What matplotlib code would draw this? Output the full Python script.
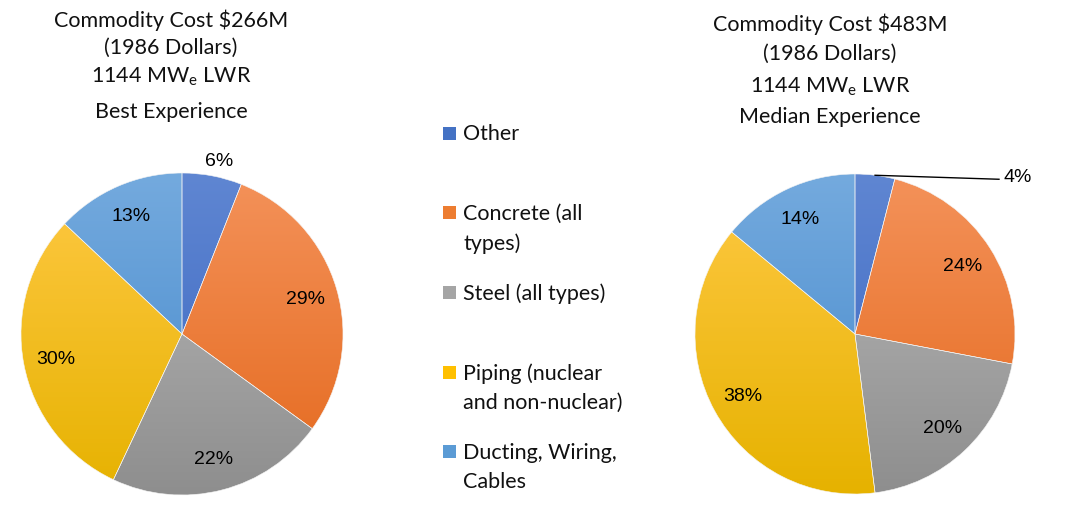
import numpy as np
import matplotlib
matplotlib.use("Agg")
import matplotlib.pyplot as plt
from matplotlib.colors import LinearSegmentedColormap
from matplotlib.patches import Rectangle

plt.rcParams['font.family'] = ['Lato', 'DejaVu Sans']
plt.rcParams['mathtext.fontset'] = 'custom'
plt.rcParams['mathtext.rm'] = 'Lato'

categories = ["Other", "Concrete (all\ntypes)", "Steel (all types)",
              "Piping (nuclear\nand non-nuclear)", "Ducting, Wiring,\nCables"]
best = [6, 29, 22, 30, 13]
median = [4, 24, 20, 38, 14]
titles_best = ["Commodity Cost $266M", "(1986 Dollars)", "1144 MW$_\\mathrm{e}$ LWR", "Best Experience"]
titles_median = ["Commodity Cost $483M", "(1986 Dollars)", "1144 MW$_\\mathrm{e}$ LWR", "Median Experience"]

# light (top) / dark (bottom) shade for each slice colour
light = ["#5f86d2", "#f4925a", "#bababa", "#ffc945", "#74aade"]
dark = ["#3a66c0", "#e4681c", "#8e8e8e", "#e6b200", "#4488cb"]
base = ["#4472c4", "#ed7d31", "#a5a5a5", "#ffc000", "#5b9bd5"]

W, H = 1075, 510
fig = plt.figure(figsize=(W / 100, H / 100), dpi=100)
ax = fig.add_axes([0, 0, 1, 1])


def draw_pie(vals, cx, cy, r, dist, outside):
    wedges, _ = ax.pie(vals, colors=base, startangle=90, counterclock=False,
                       center=(cx, cy), radius=r,
                       wedgeprops=dict(edgecolor="#f4f4f4", linewidth=0.4))
    grad = np.linspace(0, 1, 256).reshape(-1, 1)
    for i, w in enumerate(wedges):
        cm = LinearSegmentedColormap.from_list("g", [dark[i], light[i]])
        im = ax.imshow(grad, cmap=cm, extent=(cx - r, cx + r, cy - r, cy + r),
                       origin="lower", aspect="auto", zorder=1)
        im.set_clip_path(w)
        w.set_facecolor("none")
        w.set_zorder(2)
    for i, w in enumerate(wedges):
        a = np.deg2rad((w.theta1 + w.theta2) / 2)
        txt = "%d%%" % vals[i]
        if i in outside:
            kind, d = outside[i]
            if kind == "near":
                ax.text(cx + d * r * np.cos(a) + 4, cy + d * r * np.sin(a), txt,
                        ha="center", va="center", fontsize=14,
                        family="Liberation Sans", color="black", zorder=5)
            else:
                x0, y0 = cx + r * np.cos(a), cy + r * np.sin(a)
                x1, y1 = cx + r + d, y0 - 4
                ax.plot([x0, x1], [y0, y1], color="black", lw=1, zorder=5)
                ax.text(x1 + 4, y1 + 3, txt, ha="left", va="center", fontsize=14,
                        family="Liberation Sans", color="black", zorder=5)
        else:
            ax.text(cx + dist * r * np.cos(a), cy + dist * r * np.sin(a), txt,
                    ha="center", va="center", fontsize=14,
                    family="Liberation Sans", color="black", zorder=5)


draw_pie(best, 182, H - 335, 161, 0.8, {0: ("near", 1.1)})
draw_pie(median, 855, H - 335, 160, 0.8, {0: ("lead", -16)})

for line, y in zip(titles_best, [20, 48, 77, 112]):
    ax.text(171, H - y, line, ha="center", va="center", fontsize=15.5, color="#111111")
for line, y in zip(titles_median, [24, 54, 87, 117]):
    ax.text(830, H - y, line, ha="center", va="center", fontsize=15.5, color="#111111")

# legend
for i, lab in enumerate(categories):
    y = 134 + 79.7 * i
    ax.add_patch(Rectangle((443, H - y - 6.5), 13, 13, facecolor=base[i],
                           edgecolor="none", zorder=5))
    ax.text(463, H - y + 9.5, lab, ha="left", va="top", fontsize=15.5,
            color="#111111", linespacing=1.55)

ax.set_xlim(0, W)
ax.set_ylim(0, H)
ax.set_aspect("auto")
ax.axis("off")

plt.savefig("out.png", dpi=100)
